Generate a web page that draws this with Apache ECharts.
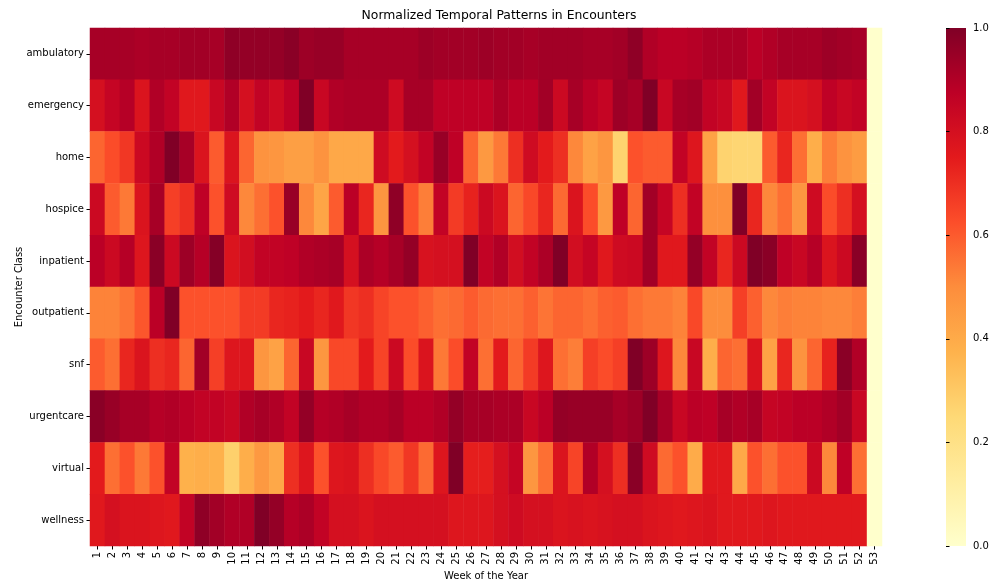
<!DOCTYPE html>
<html><head><meta charset="utf-8">
<script src="https://cdn.jsdelivr.net/npm/echarts@6/dist/echarts.min.js"></script>
<style>html,body{margin:0;padding:0;background:#fff}#c{width:998px;height:583px}</style>
</head><body><div id="c"></div>
<script>
const classes = ["ambulatory","emergency","home","hospice","inpatient","outpatient","snf","urgentcare","virtual","wellness"];
const weeks = Array.from({length:53},(_,i)=>String(i+1));
const ambulatory = [0.92,0.92,0.92,0.91,0.92,0.92,0.93,0.93,0.92,0.97,0.96,0.96,0.96,0.98,0.94,0.95,0.95,0.92,0.92,0.92,0.92,0.92,0.94,0.93,0.93,0.93,0.94,0.93,0.93,0.92,0.93,0.93,0.93,0.92,0.92,0.93,0.97,0.9,0.88,0.88,0.89,0.91,0.91,0.91,0.88,0.9,0.92,0.92,0.92,0.94,0.93,0.92,0];
const emergency = [0.8,0.85,0.89,0.78,0.9,0.86,0.76,0.76,0.84,0.9,0.8,0.86,0.82,0.87,1.0,0.84,0.9,0.91,0.91,0.91,0.82,0.92,0.92,0.87,0.87,0.87,0.87,0.91,0.88,0.88,0.93,0.83,0.92,0.88,0.85,0.94,0.92,1.0,0.84,0.92,0.93,0.86,0.84,0.76,0.93,0.86,0.78,0.78,0.8,0.87,0.84,0.86,0];
const home = [0.58,0.63,0.68,0.83,0.9,1.0,0.92,0.78,0.6,0.78,0.58,0.48,0.47,0.44,0.44,0.48,0.41,0.41,0.41,0.82,0.75,0.8,0.86,0.95,0.87,0.58,0.46,0.54,0.7,0.82,0.75,0.7,0.51,0.43,0.47,0.27,0.62,0.6,0.6,0.86,0.77,0.43,0.27,0.26,0.26,0.6,0.72,0.56,0.39,0.53,0.48,0.45,0];
const hospice = [0.83,0.6,0.54,0.78,0.92,0.66,0.7,0.87,0.62,0.82,0.51,0.56,0.62,0.95,0.51,0.42,0.6,0.88,0.72,0.47,0.97,0.62,0.53,0.86,0.67,0.73,0.83,0.78,0.58,0.64,0.72,0.57,0.78,0.63,0.46,0.87,0.58,0.93,0.85,0.7,0.86,0.49,0.49,1.0,0.72,0.51,0.56,0.47,0.82,0.63,0.7,0.8,0];
const inpatient = [0.88,0.83,0.89,0.77,0.98,0.83,0.94,0.89,0.99,0.78,0.81,0.86,0.86,0.87,0.9,0.91,0.92,0.8,0.91,0.89,0.92,0.96,0.79,0.8,0.8,1.0,0.86,0.9,0.81,0.86,0.91,1.0,0.81,0.85,0.76,0.82,0.83,0.93,0.76,0.76,0.96,0.86,0.72,0.83,1.0,0.98,0.87,0.84,0.89,0.78,0.83,0.98,0];
const outpatient = [0.52,0.52,0.55,0.61,0.88,1.0,0.62,0.62,0.62,0.62,0.67,0.67,0.72,0.73,0.75,0.72,0.76,0.68,0.7,0.65,0.62,0.62,0.59,0.56,0.57,0.6,0.57,0.56,0.56,0.59,0.55,0.58,0.58,0.56,0.59,0.6,0.56,0.54,0.54,0.52,0.64,0.5,0.5,0.66,0.59,0.51,0.53,0.52,0.52,0.51,0.51,0.53,0];
const snf = [0.6,0.56,0.72,0.78,0.7,0.72,0.58,0.93,0.66,0.77,0.77,0.47,0.43,0.58,0.84,0.47,0.64,0.64,0.75,0.65,0.83,0.63,0.78,0.54,0.63,0.86,0.56,0.75,0.58,0.67,0.77,0.56,0.53,0.66,0.63,0.66,1.0,0.94,0.77,0.51,0.84,0.39,0.58,0.56,0.78,0.43,0.72,0.48,0.58,0.73,0.98,0.9,0];
const urgentcare = [0.98,0.95,0.92,0.92,0.89,0.9,0.88,0.86,0.86,0.84,0.9,0.92,0.9,0.86,0.96,0.89,0.9,0.92,0.9,0.9,0.92,0.88,0.88,0.9,0.96,0.92,0.92,0.91,0.91,0.84,0.88,0.96,0.95,0.95,0.95,0.92,0.94,1.0,0.92,0.84,0.88,0.87,0.92,0.9,0.92,0.85,0.86,0.88,0.88,0.9,0.93,0.84,0];
const virtual = [0.75,0.56,0.62,0.54,0.62,0.86,0.38,0.39,0.38,0.28,0.39,0.46,0.41,0.7,0.77,0.62,0.77,0.78,0.7,0.64,0.6,0.68,0.57,0.77,1.0,0.74,0.74,0.8,0.85,0.47,0.56,0.78,0.65,0.9,0.8,0.7,0.98,0.82,0.57,0.62,0.4,0.76,0.76,0.41,0.62,0.56,0.62,0.62,0.83,0.51,0.87,0.56,0];
const wellness = [0.76,0.8,0.78,0.78,0.77,0.76,0.86,0.97,0.93,0.9,0.9,1.0,0.96,0.89,0.91,0.86,0.8,0.8,0.78,0.8,0.8,0.8,0.8,0.8,0.77,0.77,0.77,0.8,0.82,0.8,0.8,0.78,0.79,0.78,0.79,0.8,0.8,0.78,0.77,0.76,0.77,0.78,0.76,0.76,0.76,0.77,0.76,0.76,0.76,0.76,0.76,0.76,0];
const rows = [ambulatory,emergency,home,hospice,inpatient,outpatient,snf,urgentcare,virtual,wellness];

const palette = ['#ffffcc','#ffeda0','#fed976','#feb24c','#fd8d3c','#fc4e2a','#e31a1c','#bd0026','#800026'];
const data = [];
rows.forEach((r,yi)=>r.forEach((v,xi)=>data.push([xi,yi,v])));
const FONT = "DejaVu Sans";
const chart = echarts.init(document.getElementById('c'));
const cbTop = 28, cbH = 518;
chart.setOption({
  animation:false,
  textStyle:{fontFamily:FONT},
  title:{text:"Normalized Temporal Patterns in Encounters",left:'center',top:10,itemGap:0,padding:0,
    textStyle:{fontFamily:FONT,fontSize:12.4,fontWeight:'normal',color:'#000'}},
  grid:[{left:90,right:116,top:28,bottom:37,containLabel:false,outerBoundsMode:'none'},
        {left:946,width:20,top:28,bottom:37,containLabel:false,outerBoundsMode:'none'}],
  xAxis:[{type:'category',data:weeks,gridIndex:0,name:'Week of the Year',nameLocation:'middle',nameGap:25,nameMoveOverlap:false,
    nameTextStyle:{fontFamily:FONT,fontSize:10,color:'#000'},
    axisLine:{show:false},axisTick:{show:true,alignWithLabel:true,length:3.5,lineStyle:{color:'#000'}},
    axisLabel:{rotate:90,interval:0,fontSize:10,color:'#000',margin:6,fontFamily:FONT},splitLine:{show:false}},
    {type:'value',gridIndex:1,show:false,min:0,max:1}],
  yAxis:[{type:'category',data:classes,inverse:true,gridIndex:0,name:'Encounter Class',nameLocation:'middle',nameGap:66,nameMoveOverlap:false,
    nameTextStyle:{fontFamily:FONT,fontSize:10,color:'#000'},
    axisLine:{show:false},axisTick:{show:true,alignWithLabel:true,length:3.5,lineStyle:{color:'#000'}},
    axisLabel:{fontSize:10,color:'#000',margin:6,fontFamily:FONT},splitLine:{show:false}},
    {type:'value',gridIndex:1,min:0,max:1,interval:0.2,position:'right',
    axisLine:{show:false},axisTick:{show:true,length:3.5,lineStyle:{color:'#000'}},
    axisLabel:{fontSize:10,color:'#000',margin:7,fontFamily:FONT,formatter:v=>v.toFixed(1)},splitLine:{show:false}}],
  visualMap:{type:'continuous',show:false,min:0,max:1,seriesIndex:0,inRange:{color:palette}},
  graphic:[{type:'rect',shape:{x:946,y:cbTop,width:20,height:cbH},silent:true,z:-1,
    style:{fill:new echarts.graphic.LinearGradient(0,1,0,0,palette.map((c,i)=>({offset:i/(palette.length-1),color:c})))}}],
  series:[{type:'heatmap',xAxisIndex:0,yAxisIndex:0,data:data,itemStyle:{borderWidth:0},emphasis:{disabled:true},progressive:0}]
});
</script></body></html>
